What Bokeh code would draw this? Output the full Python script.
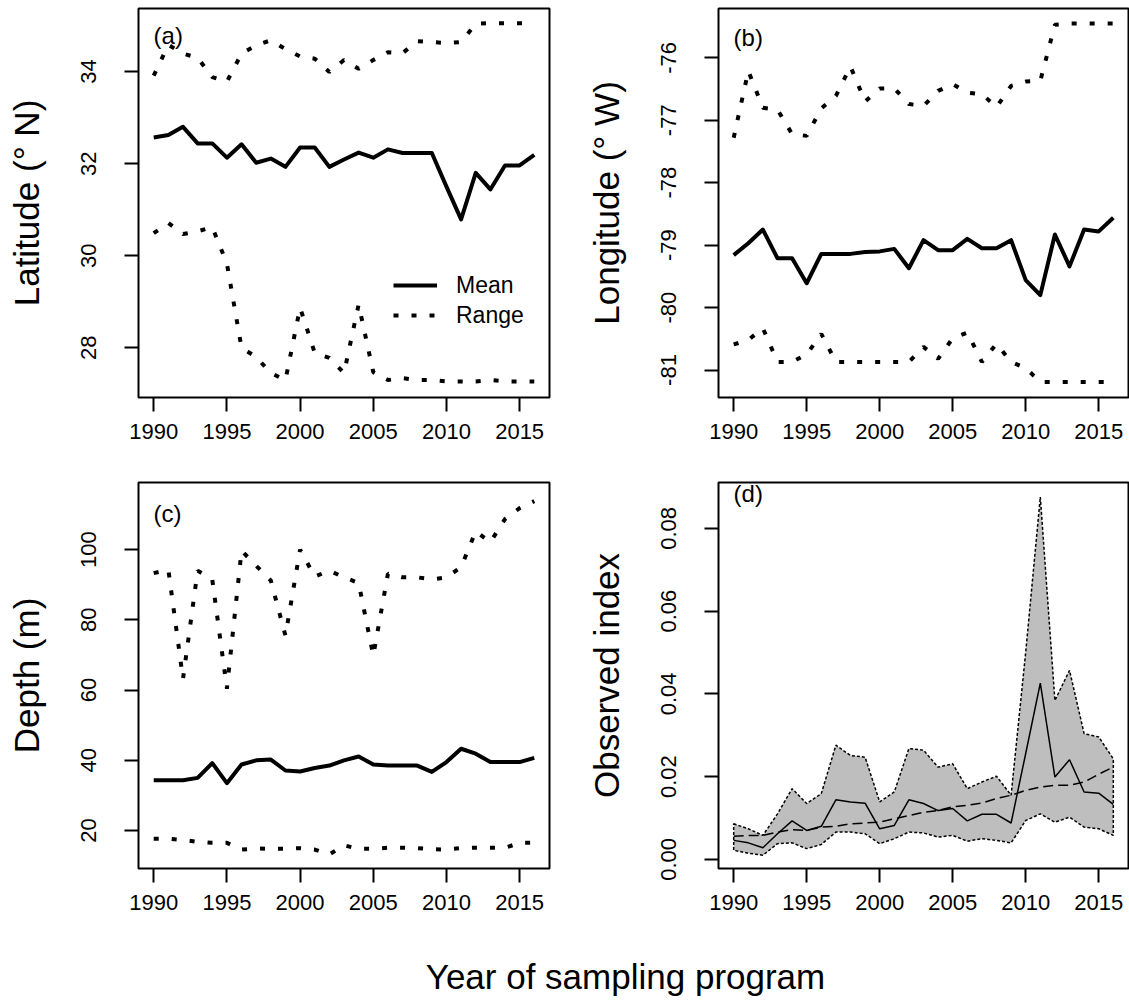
from bokeh.plotting import figure
from bokeh.models import Range1d, FixedTicker, PrintfTickFormatter, Legend, LegendItem, Label
from bokeh.layouts import column, row
from bokeh.embed import file_html
from bokeh.resources import INLINE

years = list(range(1990, 2017))
x_ticks = [1990, 1995, 2000, 2005, 2010, 2015]

lat_mean = [32.57, 32.62, 32.80, 32.44, 32.44, 32.13, 32.42, 32.02, 32.11, 31.93, 32.35, 32.35, 31.93, 32.09,
            32.24, 32.13, 32.31, 32.23, 32.23, 32.23, 31.50, 30.79, 31.80, 31.44, 31.96, 31.96, 32.19]
lat_max = [33.91, 34.58, 34.39, 34.30, 33.88, 33.78, 34.39, 34.57, 34.68, 34.49, 34.33, 34.28, 33.99, 34.25,
           34.06, 34.25, 34.42, 34.40, 34.66, 34.64, 34.62, 34.64, 35.04, 35.05, 35.05, 35.05, 35.05]
lat_min = [30.49, 30.71, 30.47, 30.53, 30.62, 29.83, 28.00, 27.80, 27.45, 27.30, 28.87, 27.89, 27.78, 27.45,
           28.94, 27.47, 27.30, 27.34, 27.30, 27.30, 27.27, 27.27, 27.27, 27.30, 27.27, 27.27, 27.27]
lat_ticks = [28, 30, 32, 34]

lon_mean = [-79.16, -78.97, -78.75, -79.21, -79.21, -79.61, -79.14, -79.14, -79.14, -79.11, -79.10, -79.06,
            -79.37, -78.92, -79.08, -79.08, -78.90, -79.05, -79.05, -78.92, -79.56, -79.80, -78.83, -79.34,
            -78.75, -78.78, -78.56]
lon_max = [-77.28, -76.21, -76.80, -76.83, -77.22, -77.25, -76.81, -76.61, -76.14, -76.70, -76.49, -76.49,
           -76.74, -76.77, -76.53, -76.42, -76.56, -76.58, -76.79, -76.45, -76.38, -76.37, -75.47, -75.45,
           -75.45, -75.45, -75.45]
lon_min = [-80.59, -80.52, -80.33, -80.87, -80.87, -80.75, -80.42, -80.87, -80.87, -80.87, -80.87, -80.87,
           -80.87, -80.63, -80.82, -80.49, -80.40, -80.87, -80.58, -80.87, -80.97, -81.19, -81.19, -81.19,
           -81.19, -81.19, -81.19]
lon_ticks = [-81, -80, -79, -78, -77, -76]

depth_mean = [34.3, 34.3, 34.3, 35.0, 39.2, 33.5, 38.8, 40.0, 40.2, 37.1, 36.8, 37.8, 38.5, 40.0, 41.1, 38.8,
              38.5, 38.5, 38.5, 36.7, 39.5, 43.3, 41.9, 39.5, 39.5, 39.5, 40.7]
depth_max = [93.3, 94.3, 63.2, 94.0, 91.5, 60.4, 99.7, 95.4, 91.2, 75.5, 100.0, 92.3, 94.0, 92.1, 90.5, 69.8,
             93.1, 92.1, 92.1, 91.5, 92.1, 95.0, 105.2, 102.1, 108.7, 111.8, 113.8]
depth_min = [17.7, 17.7, 17.3, 16.8, 16.5, 16.5, 14.6, 14.9, 14.8, 14.8, 15.0, 14.6, 13.2, 15.8, 14.8, 14.8,
             15.1, 15.1, 15.0, 14.7, 14.6, 15.0, 15.1, 15.1, 15.1, 16.5, 16.5]
depth_ticks = [20, 40, 60, 80, 100]

idx_upper = [0.0086, 0.0074, 0.0058, 0.0110, 0.0171, 0.0135, 0.0159, 0.0276, 0.0251, 0.0247, 0.0139, 0.0163,
             0.0268, 0.0264, 0.0223, 0.0231, 0.0171, 0.0187, 0.0201, 0.0155, 0.0501, 0.0876, 0.0384, 0.0457,
             0.0304, 0.0296, 0.0243]
idx_lower = [0.0022, 0.0015, 0.0010, 0.0038, 0.0040, 0.0026, 0.0036, 0.0066, 0.0066, 0.0062, 0.0038, 0.0050,
             0.0066, 0.0064, 0.0054, 0.0058, 0.0044, 0.0050, 0.0046, 0.0040, 0.0094, 0.0110, 0.0090, 0.0102,
             0.0078, 0.0074, 0.0058]
idx_obs = [0.0046, 0.0040, 0.0028, 0.0062, 0.0093, 0.0070, 0.0080, 0.0144, 0.0139, 0.0136, 0.0074, 0.0082,
           0.0144, 0.0135, 0.0118, 0.0123, 0.0093, 0.0109, 0.0109, 0.0088, 0.0256, 0.0426, 0.0199, 0.0241,
           0.0163, 0.0160, 0.0133]
idx_pred = [0.0056, 0.0058, 0.0058, 0.0066, 0.0072, 0.0070, 0.0078, 0.0080, 0.0086, 0.0088, 0.0090, 0.0098,
            0.0106, 0.0114, 0.0118, 0.0127, 0.0131, 0.0136, 0.0147, 0.0155, 0.0167, 0.0175, 0.0179, 0.0179,
            0.0187, 0.0206, 0.0223]
idx_ticks = [0.0, 0.02, 0.04, 0.06, 0.08]

FONT = "Liberation Sans"
TICK_FS = "22px"
TITLE_FS = "35px"
DOT = "5 13"


def make_fig(width, height, left, right, top, bottom, yr, yticks, yfmt, ylabel):
    p = figure(width=width, height=height, x_range=Range1d(1988.96, 2017.04), y_range=Range1d(*yr),
               output_backend="svg", toolbar_location=None,
               min_border_left=left, min_border_right=right, min_border_top=top, min_border_bottom=bottom)
    p.xgrid.visible = False
    p.ygrid.visible = False
    p.outline_line_color = "black"
    p.outline_line_width = 2
    p.outline_line_alpha = 1
    p.background_fill_color = "white"
    p.border_fill_color = "white"
    for ax in (p.xaxis[0], p.yaxis[0]):
        ax.axis_line_color = None
        ax.major_tick_line_color = "black"
        ax.major_tick_line_width = 2
        ax.major_tick_in = 0
        ax.major_tick_out = 14
        ax.minor_tick_line_color = None
        ax.major_label_text_font = FONT
        ax.major_label_text_font_size = TICK_FS
        ax.major_label_text_color = "black"
    p.xaxis.major_label_standoff = 12
    p.yaxis.major_label_standoff = 28
    p.xaxis.ticker = FixedTicker(ticks=x_ticks)
    p.yaxis.ticker = FixedTicker(ticks=yticks)
    p.xaxis.formatter = PrintfTickFormatter(format="%d")
    p.yaxis.formatter = PrintfTickFormatter(format=yfmt)
    p.yaxis.major_label_orientation = "vertical"
    p.yaxis.axis_label = ylabel
    p.yaxis.axis_label_text_font = FONT
    p.yaxis.axis_label_text_font_size = TITLE_FS
    p.yaxis.axis_label_text_font_style = "normal"
    p.yaxis.axis_label_text_color = "black"
    p.yaxis.axis_label_standoff = 33
    return p


def panel_label(p, text, x, y):
    p.add_layout(Label(x=x, y=y, text=text, text_font=FONT, text_font_size="24px",
                       text_align="left", text_baseline="middle", text_color="black"))


# (a) Latitude
pa = make_fig(560, 460, 138, 11, 8, 63, (26.92, 35.37), lat_ticks, "%d", "Latitude (° N)")
r_mean = pa.line(years, lat_mean, line_color="black", line_width=4, line_join="round")
r_range = pa.line(years, lat_max, line_color="black", line_width=4, line_dash=DOT, line_cap="butt")
pa.line(years, lat_min, line_color="black", line_width=4, line_dash=DOT, line_cap="butt")
legend = Legend(items=[LegendItem(label="Mean", renderers=[r_mean]),
                       LegendItem(label="Range", renderers=[r_range])],
                location=(255, 67), padding=0, margin=0, spacing=0,
                glyph_width=44, glyph_height=30, label_height=30, label_standoff=19,
                label_text_font=FONT, label_text_font_size="23px", label_text_color="black",
                background_fill_alpha=0, border_line_alpha=0)
pa.add_layout(legend)
panel_label(pa, "(a)", 1989.99, 34.78)

# (b) Longitude
pb = make_fig(569, 460, 158, 1, 8, 63, (-81.44, -75.21), lon_ticks, "%d", "Longitude (° W)")
pb.line(years, lon_mean, line_color="black", line_width=4, line_join="round")
pb.line(years, lon_max, line_color="black", line_width=4, line_dash=DOT, line_cap="butt")
pb.line(years, lon_min, line_color="black", line_width=4, line_dash=DOT, line_cap="butt")
panel_label(pb, "(b)", 1989.99, -75.68)

# (c) Depth
pc = make_fig(560, 471, 138, 11, 22, 63, (9.2, 119.1), depth_ticks, "%d", "Depth (m)")
pc.line(years, depth_mean, line_color="black", line_width=4, line_join="round")
pc.line(years, depth_max, line_color="black", line_width=4, line_dash=DOT, line_cap="butt")
pc.line(years, depth_min, line_color="black", line_width=4, line_dash=DOT, line_cap="butt")
panel_label(pc, "(c)", 1989.99, 110.3)

# (d) Observed index
pd_ = make_fig(569, 471, 158, 1, 22, 63, (-0.0022, 0.0911), idx_ticks, "%.2f", "Observed index")
pd_.patch(years + years[::-1], idx_upper + idx_lower[::-1], fill_color="#BEBEBE", line_color="black",
          line_width=1.5, line_dash="3 2")
pd_.line(years, idx_pred, line_color="black", line_width=1.5, line_dash="10 5")
pd_.line(years, idx_obs, line_color="black", line_width=1.5)
panel_label(pd_, "(d)", 1989.99, 0.0884)

# bottom shared x label
pbot = figure(width=1129, height=76, x_range=Range1d(0, 1129), y_range=Range1d(0, 76),
              output_backend="svg", toolbar_location=None,
              min_border_left=0, min_border_right=0, min_border_top=0, min_border_bottom=0)
pbot.axis.visible = False
pbot.grid.visible = False
pbot.outline_line_color = None
pbot.add_layout(Label(x=625, y=31, text="Year of sampling program", text_font=FONT,
                      text_font_size=TITLE_FS, text_align="center", text_baseline="middle",
                      text_color="black"))

layout = column(row(pa, pb), row(pc, pd_), pbot)
open("out.html", "w").write(file_html(layout, INLINE))
